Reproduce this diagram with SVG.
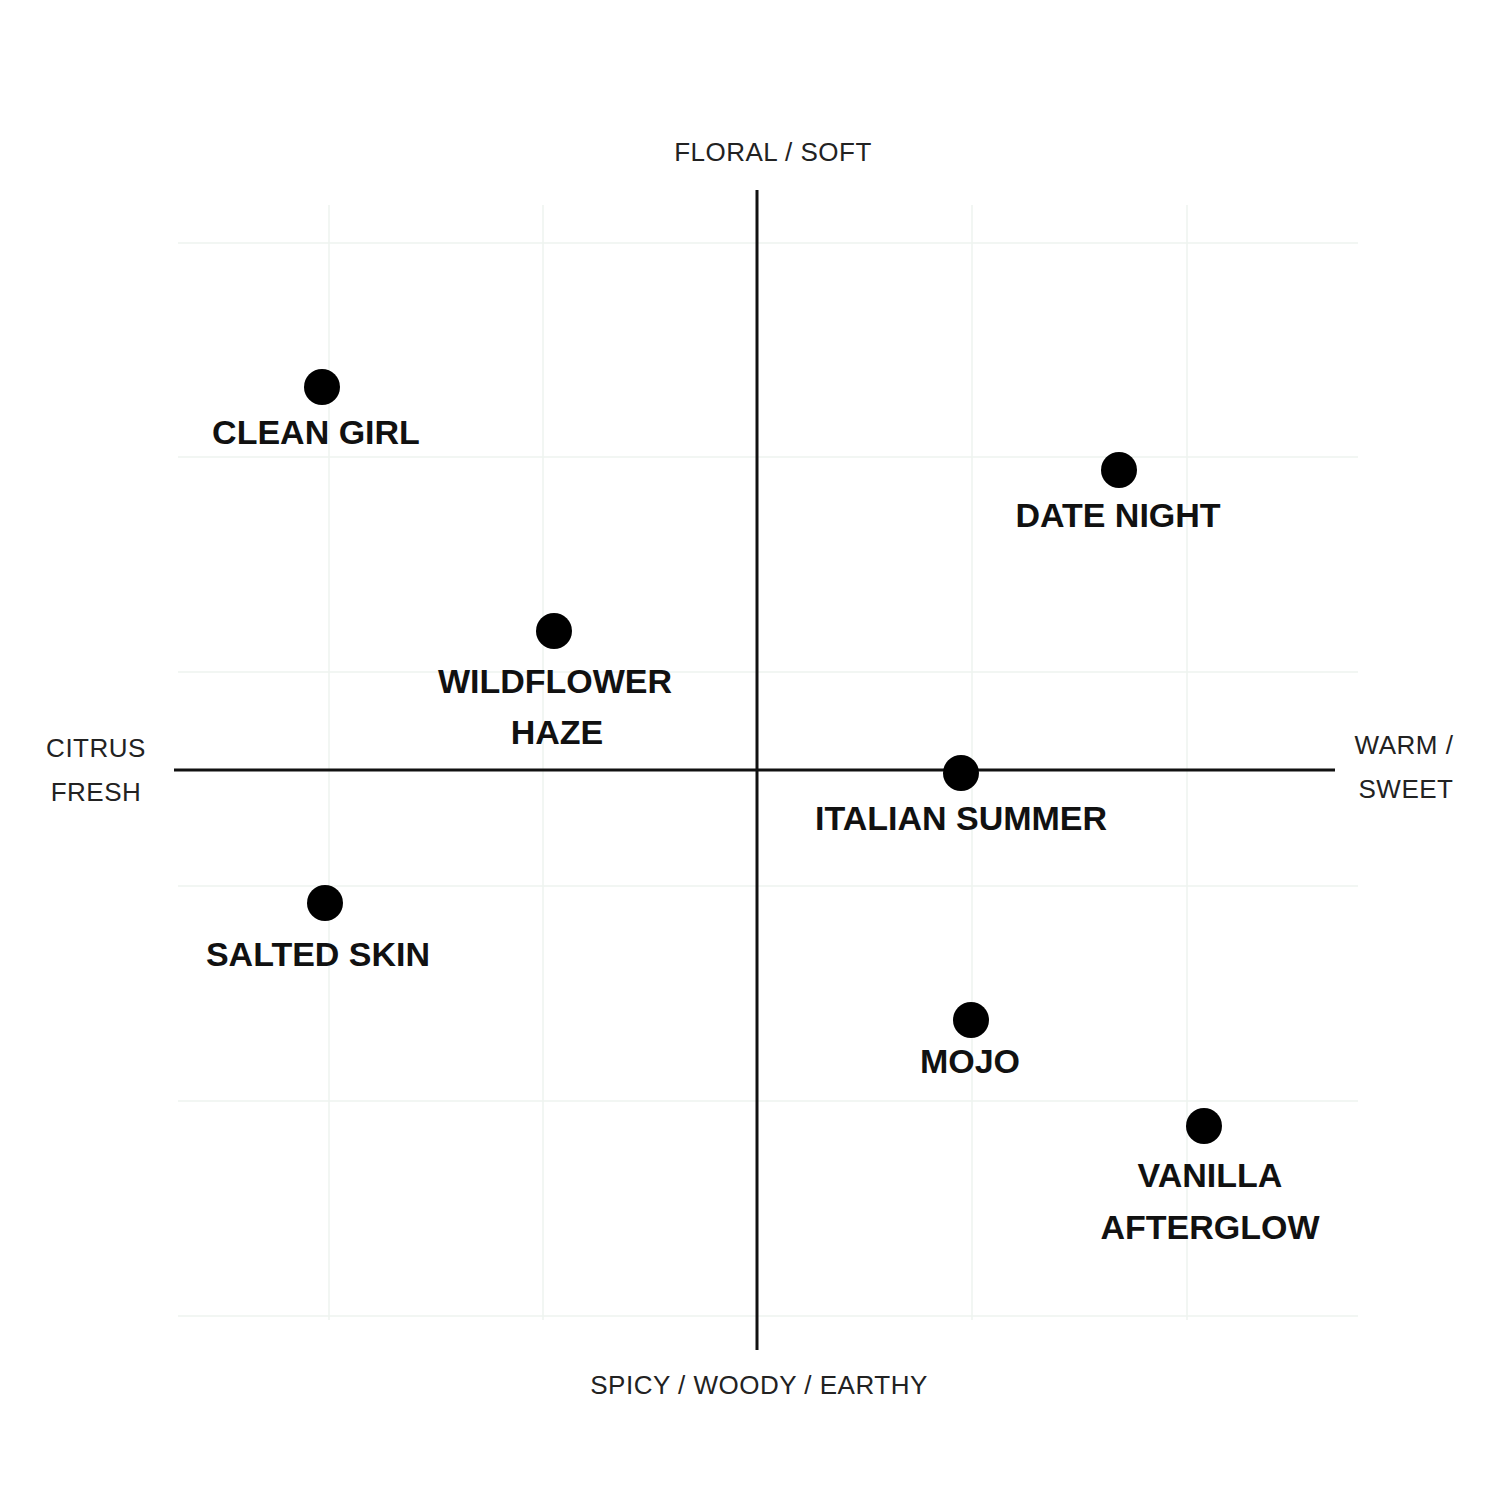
<svg xmlns="http://www.w3.org/2000/svg" width="1512" height="1512" viewBox="0 0 1512 1512">
<style>
.g{stroke:#eef3ef;stroke-width:1.5}
.ax{stroke:#111;stroke-width:3}
.lbl{font-family:"Liberation Sans",Arial,sans-serif;font-weight:bold;font-size:34px;fill:#111;text-anchor:middle}
.axl{font-family:"Liberation Sans",Arial,sans-serif;font-size:26px;fill:#222;text-anchor:middle;letter-spacing:0.5px}
.dot{fill:#000}
</style>
<rect width="1512" height="1512" fill="#fff"/>
<g id="grid">
<line class="g" x1="329" y1="205" x2="329" y2="1320"/>
<line class="g" x1="543" y1="205" x2="543" y2="1320"/>
<line class="g" x1="972" y1="205" x2="972" y2="1320"/>
<line class="g" x1="1187" y1="205" x2="1187" y2="1320"/>
<line class="g" x1="178" y1="243" x2="1358" y2="243"/>
<line class="g" x1="178" y1="457" x2="1358" y2="457"/>
<line class="g" x1="178" y1="672" x2="1358" y2="672"/>
<line class="g" x1="178" y1="886" x2="1358" y2="886"/>
<line class="g" x1="178" y1="1101" x2="1358" y2="1101"/>
<line class="g" x1="178" y1="1316" x2="1358" y2="1316"/>
</g>
<g id="axes">
<line class="ax" x1="757" y1="190" x2="757" y2="1350"/>
<line class="ax" x1="174" y1="770" x2="1335" y2="770"/>
<text class="axl" x="773" y="161">FLORAL / SOFT</text>
<text class="axl" x="759" y="1394">SPICY / WOODY / EARTHY</text>
<text class="axl" x="96" y="757">CITRUS</text>
<text class="axl" x="96" y="801">FRESH</text>
<text class="axl" x="1404" y="754">WARM /</text>
<text class="axl" x="1406" y="798">SWEET</text>
</g>
<g id="clean-girl"><circle class="dot" cx="322" cy="387" r="18"/><text class="lbl" x="316" y="444">CLEAN GIRL</text></g>
<g id="date-night"><circle class="dot" cx="1119" cy="470" r="18"/><text class="lbl" x="1118" y="527">DATE NIGHT</text></g>
<g id="wildflower-haze"><circle class="dot" cx="554" cy="631" r="18"/><text class="lbl" x="555" y="693">WILDFLOWER</text><text class="lbl" x="557" y="744">HAZE</text></g>
<g id="italian-summer"><circle class="dot" cx="961" cy="773" r="18"/><text class="lbl" x="961" y="830">ITALIAN SUMMER</text></g>
<g id="salted-skin"><circle class="dot" cx="325" cy="903" r="18"/><text class="lbl" x="318" y="966">SALTED SKIN</text></g>
<g id="mojo"><circle class="dot" cx="971" cy="1020" r="18"/><text class="lbl" x="970" y="1073">MOJO</text></g>
<g id="vanilla-afterglow"><circle class="dot" cx="1204" cy="1126" r="18"/><text class="lbl" x="1210" y="1187">VANILLA</text><text class="lbl" x="1210" y="1239">AFTERGLOW</text></g>
</svg>
